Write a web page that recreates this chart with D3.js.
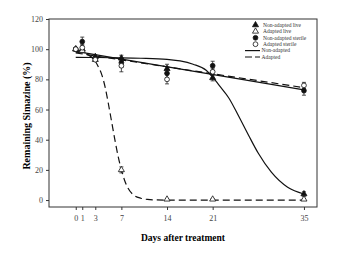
<!doctype html>
<html>
  <head>
    <script src="https://cdnjs.cloudflare.com/ajax/libs/d3/7.8.5/d3.min.js"></script>
  <style>
    body { margin: 0; background: #fff; }
    text { font-family: "Liberation Serif", "DejaVu Serif", serif; }
  </style>
  </head>
  <body>
    <svg id="chart" width="350" height="259"></svg>
    <script>
      // measured days and mean remaining simazine (%)
      var days = [0, 1, 3, 7, 14, 21, 35];
      var nonAdaptedLive = [100, 100, 95, 94, 87, 81, 4];
      var nonAdaptedLiveErr = [1, 2, 1, 2, 3, 2, 1.5];
      var adaptedLive = [100, 99, 93, 20, 0.5, 0.5, 0.5];
      var adaptedLiveErr = [1, 1, 1, 2, 0.5, 0.5, 0.5];
      var nonAdaptedSterile = [100, 105, 94, 91, 84, 89, 72.5];
      var nonAdaptedSterileErr = [1, 3, 1, 3, 3, 3, 3];
      var adaptedSterile = [100, 101, 93, 89, 80, 85, 76];
      var adaptedSterileErr = [1, 2, 1, 4, 3, 2, 2];

      // fitted curves
      var fitLiveNonAdaptedX = [0, 3, 7, 10, 14, 16, 18, 20, 21, 22, 23.5, 25, 26.5, 28, 30, 32.5, 35];
      var fitLiveNonAdaptedY = [94.6, 94.5, 94.3, 94, 93.2, 92.2, 90, 86, 81.5, 76, 67.5, 55.5, 43, 31, 18.5, 8.5, 4];
      var fitLiveAdaptedX = [0, 1, 2, 3, 3.5, 4, 4.5, 5, 5.5, 6, 6.5, 7, 7.5, 8, 9, 10, 11, 12, 14, 35];
      var fitLiveAdaptedY = [98, 97.5, 96, 92, 88, 83, 75, 64, 52, 40, 29, 20, 13, 8, 3, 1.2, 0.4, 0.1, 0, 0];
      var fitSterileNonAdaptedX = [0, 35];
      var fitSterileNonAdaptedY = [98.5, 73];
      var fitSterileAdaptedX = [0, 35];
      var fitSterileAdaptedY = [97.5, 74.5];

      var yTicks = [0, 20, 40, 60, 80, 100, 120];
      var legendLabels = ["Non-adapted live", "Adapted live", "Non-adapted sterile", "Adapted sterile", "Non-adapted", "Adapted"];

      var svg = d3.select("#chart");
      var plotL = 49, plotR = 317, plotT = 19, plotB = 207;

      var xScale = d3.scaleLinear().domain([-4.1, 37]).range([plotL, plotR]);
      var yScale = d3.scaleLinear().domain([-4.6, 120]).range([plotB, plotT]);

      svg.append("rect")
        .attr("x", plotL).attr("y", plotT)
        .attr("width", plotR - plotL).attr("height", plotB - plotT)
        .attr("fill", "none").attr("stroke", "#333").attr("stroke-width", 1);

      var xAxis = d3.axisBottom(xScale).tickValues(days).tickSize(3).tickPadding(5);
      var yAxis = d3.axisLeft(yScale).tickValues(yTicks).tickSize(3).tickPadding(3);

      var gx = svg.append("g").attr("transform", "translate(0," + plotB + ")").call(xAxis);
      var gy = svg.append("g").attr("transform", "translate(" + plotL + ",0)").call(yAxis);
      [gx, gy].forEach(function(g) {
        g.select("path.domain").remove();
        g.selectAll("line").attr("stroke", "#333");
        g.selectAll("text").attr("fill", "#444").style("font-size", "8px")
          .style("font-family", "'Liberation Serif', serif");
      });

      svg.append("text")
        .attr("x", 183).attr("y", 241)
        .attr("text-anchor", "middle")
        .style("font-size", "9.5px").style("font-weight", "bold")
        .text("Days after treatment");

      svg.append("text")
        .attr("transform", "translate(30,116) rotate(-90)")
        .attr("text-anchor", "middle")
        .style("font-size", "10px").style("font-weight", "bold")
        .text("Remaining Simazine (%)");

      // fitted lines
      function drawFit(xs, ys, dash) {
        var pts = xs.map(function(x, i) { return [x, ys[i]]; });
        var line = d3.line()
          .x(function(d) { return xScale(d[0]); })
          .y(function(d) { return yScale(d[1]); })
          .curve(d3.curveMonotoneX);
        svg.append("path")
          .datum(pts)
          .attr("d", line)
          .attr("fill", "none")
          .attr("stroke", "#111")
          .attr("stroke-width", 1.2)
          .attr("stroke-dasharray", dash);
      }
      drawFit(fitSterileNonAdaptedX, fitSterileNonAdaptedY, null);
      drawFit(fitSterileAdaptedX, fitSterileAdaptedY, "7,4");
      drawFit(fitLiveNonAdaptedX, fitLiveNonAdaptedY, null);
      drawFit(fitLiveAdaptedX, fitLiveAdaptedY, "7,4");

      // error bars and markers
      var tri = d3.symbol().type(d3.symbolTriangle).size(16);
      var series = [
        { vals: nonAdaptedLive, err: nonAdaptedLiveErr, shape: "tri", fill: "#111" },
        { vals: adaptedLive, err: adaptedLiveErr, shape: "tri", fill: "#fff" },
        { vals: nonAdaptedSterile, err: nonAdaptedSterileErr, shape: "circle", fill: "#111" },
        { vals: adaptedSterile, err: adaptedSterileErr, shape: "circle", fill: "#fff" }
      ];

      series.forEach(function(s) {
        var g = svg.append("g");
        var pts = days.map(function(d, i) { return { x: d, y: s.vals[i], e: s.err[i] }; });
        g.selectAll("line.err").data(pts).enter().append("line")
          .attr("x1", d => xScale(d.x)).attr("x2", d => xScale(d.x))
          .attr("y1", d => yScale(d.y - d.e)).attr("y2", d => yScale(d.y + d.e))
          .attr("stroke", "#222").attr("stroke-width", 0.8);
        [-1, 1].forEach(function(sg) {
          g.selectAll("line.cap" + sg).data(pts).enter().append("line")
            .attr("x1", d => xScale(d.x) - 2).attr("x2", d => xScale(d.x) + 2)
            .attr("y1", d => yScale(d.y + sg * d.e)).attr("y2", d => yScale(d.y + sg * d.e))
            .attr("stroke", "#222").attr("stroke-width", 0.8);
        });
      });

      function marker(sel, s) {
        if (s.shape === "tri") {
          sel.append("path").attr("d", tri)
            .attr("fill", s.fill).attr("stroke", "#111").attr("stroke-width", 0.8);
        } else {
          sel.append("circle").attr("r", 2.4)
            .attr("fill", s.fill).attr("stroke", "#111").attr("stroke-width", 0.8);
        }
      }

      series.forEach(function(s) {
        days.forEach(function(d, i) {
          var g = svg.append("g")
            .attr("transform", "translate(" + xScale(d) + "," + yScale(s.vals[i]) + ")");
          marker(g, s);
        });
      });

      // legend
      var lg = svg.append("g");
      legendLabels.forEach(function(label, i) {
        var ly = 25 + i * 6.4;
        if (i < 4) {
          var g = lg.append("g").attr("transform", "translate(255.5," + ly + ")");
          marker(g, series[i]);
        } else {
          lg.append("line")
            .attr("x1", 245).attr("x2", 260).attr("y1", ly).attr("y2", ly)
            .attr("stroke", "#111").attr("stroke-width", 1.2)
            .attr("stroke-dasharray", i === 5 ? "7,3" : null);
        }
        lg.append("text")
          .attr("x", i < 4 ? 263 : 261.5).attr("y", ly + 1.8)
          .attr("fill", "#333")
          .style("font-size", "5.5px")
          .text(label);
      });
    </script>
  </body>
</html>
